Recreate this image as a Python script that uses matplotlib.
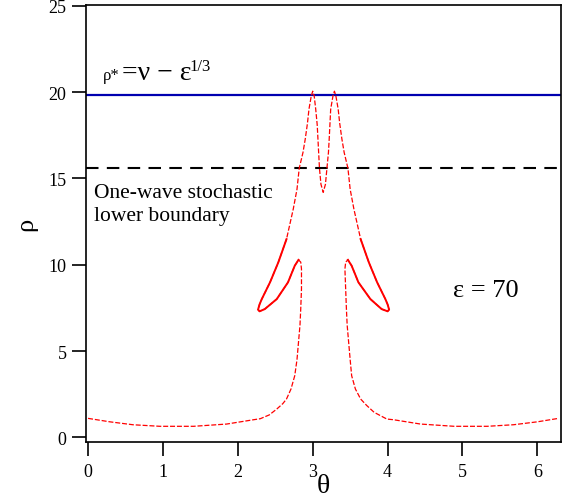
import numpy as np
import matplotlib.pyplot as plt

plt.rcParams['font.family'] = ['Liberation Serif', 'DejaVu Serif']

# separatrix, theta from 0 to 2pi
theta = [0.00, 0.29, 0.60, 0.96, 1.41, 1.85, 2.21, 2.30, 2.42, 2.52, 2.60, 2.65,
         2.71, 2.76, 2.79, 2.81, 2.83, 2.84, 2.85, 2.85, 2.84, 2.81,
         2.76, 2.67, 2.52, 2.36, 2.29, 2.27, 2.29, 2.32, 2.43, 2.54, 2.65, 2.74,
         2.79, 2.82, 2.87, 2.90, 2.93, 2.95, 2.98, 3.00, 3.02, 3.04, 3.06, 3.07,
         3.09, 3.11, 3.14, 3.17, 3.19, 3.21, 3.22, 3.24, 3.27, 3.29, 3.31, 3.34,
         3.36, 3.39, 3.42, 3.47, 3.50, 3.55, 3.64, 3.75, 3.86, 3.97, 4.00, 4.02,
         4.00, 3.92, 3.77, 3.61, 3.52, 3.47, 3.44, 3.43, 3.44, 3.45, 3.46, 3.48,
         3.50, 3.52, 3.57, 3.64, 3.72, 3.82, 3.99, 4.08, 4.44, 4.89, 5.33,
         5.68, 6.00, 6.283]
rho = [1.10, 0.90, 0.73, 0.64, 0.64, 0.77, 1.02, 1.08, 1.30, 1.64, 1.95, 2.22,
       2.80, 3.57, 4.50, 5.50, 6.50, 7.43, 8.59, 9.75, 10.15, 10.28,
       9.94, 8.98, 8.01, 7.43, 7.30, 7.40, 7.70, 8.01, 8.98, 10.13, 11.48, 13.22,
       14.37, 15.59, 16.50, 17.27, 18.20, 19.01, 19.76, 20.05, 19.76, 19.01, 18.10, 17.27,
       15.59, 14.66, 14.19, 14.66, 15.59, 16.50, 17.27, 19.01, 19.76, 20.05, 19.76, 19.01,
       18.20, 17.27, 16.50, 15.59, 14.37, 13.22, 11.48, 10.13, 8.98, 8.01, 7.70, 7.40,
       7.30, 7.43, 8.01, 8.98, 9.94, 10.28, 10.15, 9.75, 8.59, 7.43, 6.50, 5.50,
       4.50, 3.57, 2.80, 2.22, 1.85, 1.45, 1.06, 1.02, 0.77, 0.64, 0.64,
       0.73, 0.90, 1.10]

rho_star = 19.85        # rho* = nu - eps^(1/3)
rho_lower = 15.62       # one-wave stochastic lower boundary

fig = plt.figure(figsize=(5.63, 5.02), dpi=100)
ax = fig.add_axes([0.1528, 0.1175, 0.8436, 0.8715])

ax.axhline(rho_star, color='#0000b0', lw=1.6)
ax.axhline(rho_lower, color='black', lw=1.5, ls=(0, (6, 4)))

ax.plot(theta, rho, color='red', lw=0.9, ls=(0, (4, 1.5)))
# loops look solid (denser points)
ax.plot(theta[21:33], rho[21:33], color='red', lw=1.4)
ax.plot(theta[64:76], rho[64:76], color='red', lw=1.4)

ax.set_xlim(-0.027, 6.315)
ax.set_ylim(-0.27, 25.07)
ax.set_xticks(range(0, 7))
ax.set_yticks(range(0, 26, 5))
ax.tick_params(direction='out', length=10, width=1.2, labelsize=13, pad=4)
ax.tick_params(axis='x', pad=5)
ax.tick_params(top=False, right=False)
for s in ax.spines.values():
    s.set_linewidth(1.2)

ax.set_xlabel('θ', fontsize=20, labelpad=-5)
ax.set_ylabel('ρ', fontsize=19, labelpad=8)

ax.text(0.2, 20.75, 'ρ*', fontsize=12, va='baseline')
ax.text(0.46, 20.75, '=ν − ε', fontsize=20, va='baseline')
ax.text(1.36, 21.3, '1/3', fontsize=12, va='baseline')

ax.text(0.08, 13.9, 'One-wave stochastic', fontsize=15.5, va='baseline')
ax.text(0.08, 12.6, 'lower boundary', fontsize=15.5, va='baseline')

ax.text(4.87, 8.2, 'ε = 70', fontsize=19, va='baseline')

fig.savefig('out.png', dpi=100)
